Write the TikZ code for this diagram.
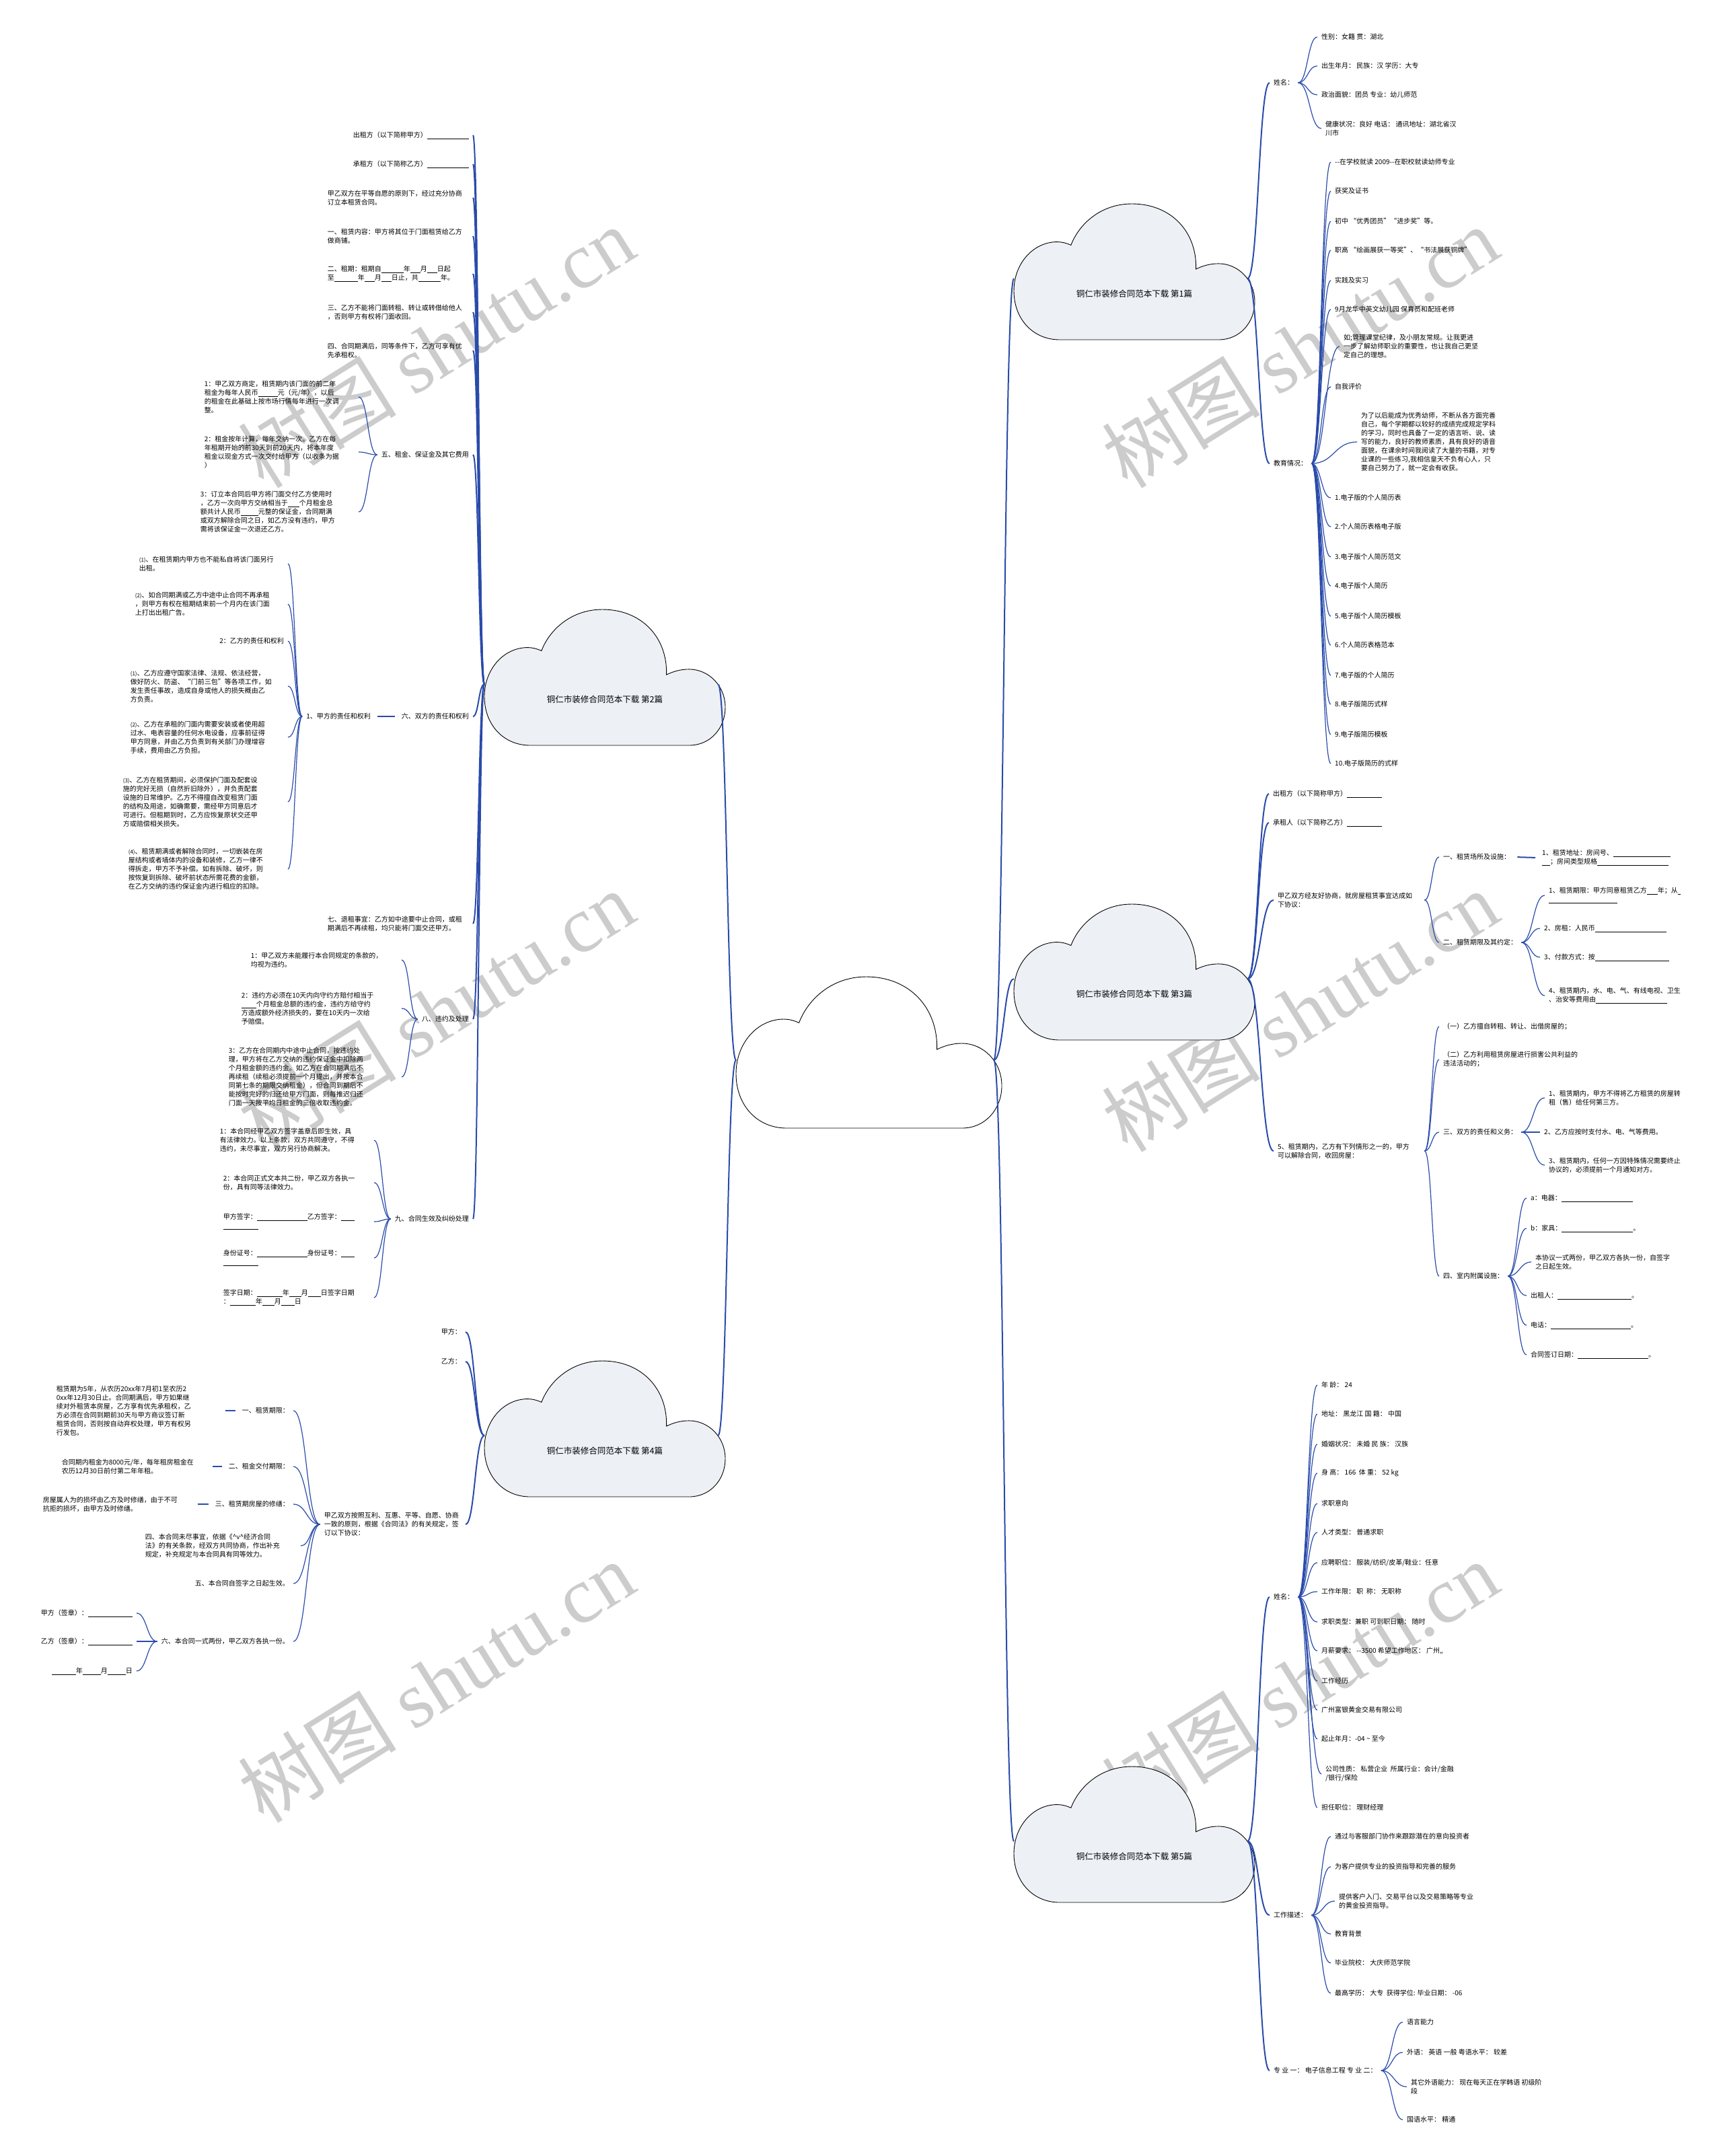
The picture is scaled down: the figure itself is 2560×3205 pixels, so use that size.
\documentclass[tikz,border=0pt]{standalone}
\usepackage{fontspec}
\setmainfont{Noto Sans CJK SC}
\newfontfamily\wmlatin{Liberation Serif}
\usetikzlibrary{calc}

\definecolor{linkblue}{RGB}{42,75,170}
\definecolor{cloudfill}{RGB}{237,240,245}
\newcommand{\leaffont}{\fontsize{10}{13}\selectfont}
\newcommand{\cloudfont}{\fontsize{12.5}{15}\selectfont}
\newcommand{\wmfont}{\fontsize{118}{118}\selectfont}
\newcommand{\blank}[1]{\rule[-2pt]{#1pt}{0.5pt}}

% cloud: name, left x, bottom y, width, height, fill, title
\newcommand{\mapcloud}[7]{%
  \begin{scope}[shift={(#2,#3)}, x=#4pt, y=#5pt]
    \draw[cloudline, fill=#6] (0.19,0) -- (0.85,0)
      .. controls (0.94,0) and (1,0.13) .. (1,0.28)
      .. controls (1,0.44) and (0.93,0.56) .. (0.85,0.56)
      .. controls (0.81,0.56) and (0.78,0.54) .. (0.756,0.52)
      .. controls (0.76,0.80) and (0.65,1) .. (0.49,1)
      .. controls (0.36,1) and (0.27,0.85) .. (0.237,0.696)
      .. controls (0.22,0.71) and (0.20,0.72) .. (0.18,0.72)
      .. controls (0.08,0.72) and (0,0.56) .. (0,0.36)
      .. controls (0,0.15) and (0.08,0) .. (0.19,0) -- cycle;
    \node[ttl] (#1) at (0.5,0.34) {#7};
    \coordinate (#1-l) at (0,0.45);
    \coordinate (#1-r) at (0.97,0.45);
  \end{scope}}

\begin{document}
\begin{tikzpicture}[
  x=1pt, y=-1pt,
  txt/.style={font=\leaffont, inner xsep=6pt, inner ysep=2pt, align=left},
  rt/.style={txt, anchor=west},
  lt/.style={txt, anchor=east},
  box/.style={text width=#1pt},
  ttl/.style={font=\cloudfont, inner sep=2pt},
  cloudline/.style={draw=black, line width=0.9pt},
  wm/.style={font=\wmfont, text=black!20, rotate=32},
  trunk/.style={draw=linkblue, line width=2pt},
  twig/.style={draw=linkblue, line width=1.2pt},
  tie/.style={draw=linkblue, line width=2pt, shorten <=4pt, shorten >=4pt},
  brc/.style={to path={let \p1=(\tikztostart), \p2=(\tikztotarget) in
    .. controls ({(\x1+\x2)/2},\y1) and ({(\x1+\x2)/2},\y2) .. (\p2)}},
]
  \useasboundingbox (0,0) rectangle (2560,3205);

  % watermarks
  \node[wm] (wm1) at (648,516) {树图 {\wmlatin shutu.cn}};
  \node[wm] (wm2) at (648,1503) {树图 {\wmlatin shutu.cn}};
  \node[wm] (wm3) at (648,2500) {树图 {\wmlatin shutu.cn}};
  \node[wm] (wm4) at (1932,516) {树图 {\wmlatin shutu.cn}};
  \node[wm] (wm5) at (1932,1503) {树图 {\wmlatin shutu.cn}};
  \node[wm] (wm6) at (1932,2500) {树图 {\wmlatin shutu.cn}};

  % clouds
  \mapcloud{root}{1094}{1677}{395}{225}{white}{}
  \mapcloud{p1}{1507}{505}{358}{202}{cloudfill}{铜仁市装修合同范本下载 第1篇}
  \mapcloud{p2}{720}{1108}{358}{202}{cloudfill}{铜仁市装修合同范本下载 第2篇}
  \mapcloud{p3}{1507}{1546}{358}{202}{cloudfill}{铜仁市装修合同范本下载 第3篇}
  \mapcloud{p4}{720}{2225}{358}{202}{cloudfill}{铜仁市装修合同范本下载 第4篇}
  \mapcloud{p5}{1507}{2828}{358}{202}{cloudfill}{铜仁市装修合同范本下载 第5篇}

  % Part 1
  \node[rt] (a1) at (1887,123) {姓名：};
  \node[rt] (a11) at (1958,55) {性别：女籍 贯：湖北};
  \node[rt] (a12) at (1958,98) {出生年月： 民族：汉 学历：大专};
  \node[rt] (a13) at (1958,141) {政治面貌：团员 专业：幼儿师范};
  \node[rt] (a14) at (1964,191) {健康状况：良好 电话： 通讯地址：湖北省汉\\川市};
  \node[rt] (a2) at (1887,689) {教育情况：};
  \node[rt] (a21) at (1978,241) {-{}-在学校就读 2009-{}-在职校就读幼师专业};
  \node[rt] (a22) at (1978,284) {获奖及证书};
  \node[rt] (a23) at (1978,329) {初中 “优秀团员”“进步奖”等。};
  \node[rt] (a24) at (1978,372) {职高 “绘画展获一等奖”、“书法展获铜牌”};
  \node[rt] (a25) at (1978,417) {实践及实习};
  \node[rt] (a26) at (1978,460) {9月龙华中英文幼儿园 保育员和配班老师};
  \node[rt] (a27) at (1991,515) {如;管理课堂纪律，及小朋友常规。让我更进\\一步了解幼师职业的重要性，也让我自己更坚\\定自己的理想。};
  \node[rt] (a28) at (1978,575) {自我评价};
  \node[rt] (a29) at (2017,657) {为了以后能成为优秀幼师，不断从各方面完善\\自己，每个学期都以较好的成绩完成规定学科\\的学习，同时也具备了一定的语言听、说、读\\写的能力，良好的教师素质，具有良好的语音\\面貌，在课余时间我阅读了大量的书籍，对专\\业课的一些练习,我相信皇天不负有心人，只\\要自己努力了，就一定会有收获。};
  \node[rt] (a210) at (1978,740) {1.电子版的个人简历表};
  \node[rt] (a211) at (1978,783) {2.个人简历表格电子版};
  \node[rt] (a212) at (1978,828) {3.电子版个人简历范文};
  \node[rt] (a213) at (1978,871) {4.电子版个人简历};
  \node[rt] (a214) at (1978,916) {5.电子版个人简历模板};
  \node[rt] (a215) at (1978,959) {6.个人简历表格范本};
  \node[rt] (a216) at (1978,1004) {7.电子版的个人简历};
  \node[rt] (a217) at (1978,1047) {8.电子版简历式样};
  \node[rt] (a218) at (1978,1092) {9.电子版简历模板};
  \node[rt] (a219) at (1978,1135) {10.电子版简历的式样};

  % Part 2
  \node[lt] (b1) at (703,201) {出租方（以下简称甲方）\blank{62}};
  \node[lt] (b2) at (703,244) {承租方（以下简称乙方）\blank{62}};
  \node[lt, box=210] (b3) at (703,294) {甲乙双方在平等自愿的原则下，经过充分协商\\订立本租赁合同。};
  \node[lt, box=210] (b4) at (703,351) {一、租赁内容：甲方将其位于门面租赁给乙方\\做商铺。};
  \node[lt, box=210] (b5) at (703,407) {二、租期：租期自\blank{33}年\blank{15}月\blank{15}日起\\至\blank{35}年\blank{15}月\blank{15}日止，共\blank{33}年。};
  \node[lt, box=210] (b6) at (703,464) {三、乙方不能将门面转租、转让或转借给他人\\，否则甲方有权将门面收回。};
  \node[lt, box=210] (b7) at (703,521) {四、合同期满后，同等条件下，乙方可享有优\\先承租权。};
  \node[lt] (b8) at (703,676) {五、租金、保证金及其它费用};
  \node[lt, box=223] (b81) at (533,590) {1：甲乙双方商定，租赁期内该门面的前二年\\租金为每年人民币\blank{29}元（元/年），以后\\的租金在此基础上按市场行情每年进行一次调\\整。};
  \node[lt, box=223] (b82) at (533,672) {2：租金按年计算，每年交纳一次。乙方在每\\年租期开始的前30天到前20天内，将本年度\\租金以现金方式一次交付给甲方（以收条为据\\）};
  \node[lt, box=229] (b83) at (533,761) {3：订立本合同后甲方将门面交付乙方使用时\\，乙方一次向甲方交纳相当于\blank{17}个月租金总\\额共计人民币\blank{26}元整的保证金，合同期满\\或双方解除合同之日，如乙方没有违约，甲方\\需将该保证金一次退还乙方。};
  \node[lt] (b9) at (703,1065) {六、双方的责任和权利};
  \node[lt] (b91) at (557,1065) {1、甲方的责任和权利};
  \node[lt, box=215] (b911) at (428,838) {{\footnotesize(1)}、在租赁期内甲方也不能私自将该门面另行\\出租。};
  \node[lt, box=221] (b912) at (428,898) {{\footnotesize(2)}、如合同期满或乙方中途中止合同不再承租\\，则甲方有权在租期结束前一个月内在该门面\\上打出出租广告。};
  \node[lt] (b913) at (428,953) {2：乙方的责任和权利};
  \node[lt, box=228] (b914) at (428,1020) {{\footnotesize(1)}、乙方应遵守国家法律、法规、依法经营，\\做好防火、防盗、“门前三包”等各项工作，如\\发生责任事故，造成自身或他人的损失概由乙\\方负责。};
  \node[lt, box=228] (b915) at (428,1096) {{\footnotesize(2)}、乙方在承租的门面内需要安装或者使用超\\过水、电表容量的任何水电设备，应事前征得\\甲方同意，并由乙方负责到有关部门办理增容\\手续，费用由乙方负担。};
  \node[lt, box=239] (b916) at (428,1192) {{\footnotesize(3)}、乙方在租赁期间，必须保护门面及配套设\\施的完好无损（自然折旧除外），并负责配套\\设施的日常维护。乙方不得擅自改变租赁门面\\的结构及用途，如确需要，需经甲方同意后才\\可进行。但租期到时，乙方应恢复原状交还甲\\方或赔偿相关损失。};
  \node[lt, box=231] (b917) at (428,1292) {{\footnotesize(4)}、租赁期满或者解除合同时，一切嵌装在房\\屋结构或者墙体内的设备和装修，乙方一律不\\得拆走，甲方不予补偿。如有拆除、破坏，则\\按恢复到拆除、破坏前状态所需花费的金额，\\在乙方交纳的违约保证金内进行相应的扣除。};
  \node[lt, box=210] (b10) at (703,1373) {七、退租事宜：乙方如中途要中止合同，或租\\期满后不再续租，均只能将门面交还甲方。};
  \node[lt] (b11) at (703,1515) {八、违约及处理};
  \node[lt, box=218] (b111) at (597,1427) {1：甲乙双方未能履行本合同规定的条款的，\\均视为违约。};
  \node[lt, box=232] (b112) at (597,1499) {2：违约方必须在10天内向守约方赔付相当于\\\blank{22}个月租金总额的违约金，违约方给守约\\方造成额外经济损失的，要在10天内一次给\\予赔偿。};
  \node[lt, box=251] (b113) at (597,1601) {3：乙方在合同期内中途中止合同，按违约处\\理，甲方将在乙方交纳的违约保证金中扣除两\\个月租金额的违约金。如乙方在合同期满后不\\再续租（续租必须提前一个月提出，并按本合\\同第七条的期限交纳租金），但合同到期后不\\能按时完好的归还给甲方门面，则每推迟归还\\门面一天按平均日租金的三倍收取违约金。};
  \node[lt] (b12) at (703,1812) {九、合同生效及纠纷处理};
  \node[lt, box=223] (b121) at (556,1695) {1：本合同经甲乙双方签字盖章后即生效，具\\有法律效力。以上条款，双方共同遵守，不得\\违约，未尽事宜，双方另行协商解决。};
  \node[lt, box=218] (b122) at (556,1758) {2：本合同正式文本共二份，甲乙双方各执一\\份，具有同等法律效力。};
  \node[lt, box=218] (b123) at (556,1816) {甲方签字：\blank{75}乙方签字：\blank{20}\\\blank{52}};
  \node[lt, box=218] (b124) at (556,1870) {身份证号：\blank{75}身份证号：\blank{20}\\\blank{52}};
  \node[lt, box=218] (b125) at (556,1929) {签字日期：\blank{38}年\blank{18}月\blank{19}日签字日期\\：\blank{38}年\blank{18}月\blank{20}日};

  % Part 3
  \node[rt] (e1) at (1886,1180) {出租方（以下简称甲方）\blank{52}};
  \node[rt] (e2) at (1886,1223) {承租人（以下简称乙方）\blank{52}};
  \node[rt, box=212] (e3) at (1893,1338) {甲乙双方经友好协商，就房屋租赁事宜达成如\\下协议：};
  \node[rt] (e31) at (2139,1274) {一、租赁场所及设施：};
  \node[rt] (e311) at (2286,1275) {1、租赁地址：房间号、\blank{85}\\\blank{12}；房间类型规格\blank{106}};
  \node[rt] (e32) at (2139,1401) {二、租赁期限及其约定：};
  \node[rt] (e321) at (2296,1331) {1、租赁期限：甲方同意租赁乙方\blank{16}年；从\blank{4}\\\blank{102}};
  \node[rt] (e322) at (2289,1380) {2、房租：人民币\blank{106}};
  \node[rt] (e323) at (2289,1423) {3、付款方式：按\blank{110}};
  \node[rt] (e324) at (2296,1480) {4、租赁期内，水、电、气、有线电视、卫生\\、治安等费用由\blank{106}};
  \node[rt, box=212] (e4) at (1893,1711) {5、租赁期内，乙方有下列情形之一的，甲方\\可以解除合同，收回房屋：};
  \node[rt] (e41) at (2139,1526) {（一）乙方擅自转租、转让、出借房屋的；};
  \node[rt] (e42) at (2139,1575) {（二）乙方利用租赁房屋进行损害公共利益的\\违法活动的；};
  \node[rt] (e43) at (2139,1683) {三、双方的责任和义务：};
  \node[rt] (e431) at (2296,1632) {1、租赁期内，甲方不得将乙方租赁的房屋转\\租（售）给任何第三方。};
  \node[rt] (e432) at (2289,1683) {2、乙方应按时支付水、电、气等费用。};
  \node[rt] (e433) at (2296,1732) {3、租赁期内，任何一方因特殊情况需要终止\\协议的，必须提前一个月通知对方。};
  \node[rt] (e44) at (2139,1897) {四、室内附属设施：};
  \node[rt] (e441) at (2269,1781) {a：电器：\blank{106}};
  \node[rt] (e442) at (2269,1826) {b：家具：\blank{106}。};
  \node[rt] (e443) at (2276,1876) {本协议一式两份，甲乙双方各执一份，自签字\\之日起生效。};
  \node[rt] (e444) at (2269,1926) {出租人：\blank{110}。};
  \node[rt] (e445) at (2269,1970) {电话：\blank{119}。};
  \node[rt] (e446) at (2269,2014) {合同签订日期：\blank{105}。};

  % Part 4
  \node[lt] (d1) at (692,1980) {甲方：};
  \node[lt] (d2) at (692,2024) {乙方：};
  \node[lt, box=204] (d3) at (692,2266) {甲乙双方按照互利、互惠、平等、自愿、协商\\一致的原则，根据《合同法》的有关规定，签\\订以下协议：};
  \node[lt] (d31) at (436,2097) {一、租赁期限：};
  \node[lt, box=241] (d311) at (331,2097) {租赁期为5年，从农历20xx年7月初1至农历2\\0xx年12月30日止。合同期满后，甲方如果继\\续对外租赁本房屋，乙方享有优先承租权，乙\\方必须在合同到期前30天与甲方商议签订新\\租赁合同，否则按自动弃权处理，甲方有权另\\行发包。};
  \node[lt] (d32) at (436,2180) {二、租金交付期限：};
  \node[lt, box=214] (d321) at (312,2180) {合同期内租金为8000元/年，每年租房租金在\\农历12月30日前付第二年年租。};
  \node[lt] (d33) at (436,2236) {三、租赁期房屋的修缮：};
  \node[lt, box=220] (d331) at (290,2236) {房屋属人为的损坏由乙方及时修缮，由于不可\\抗拒的损坏，由甲方及时修缮。};
  \node[lt, box=225] (d34) at (447,2298) {四、本合同未尽事宜，依据《\textasciicircum{}v\textasciicircum{}经济合同\\法》的有关条款，经双方共同协商，作出补充\\规定，补充规定与本合同具有同等效力。};
  \node[lt] (d35) at (436,2354) {五、本合同自签字之日起生效。};
  \node[lt] (d36) at (436,2440) {六、本合同一式两份，甲乙双方各执一份。};
  \node[lt] (d361) at (203,2398) {甲方（签章）：\blank{66}};
  \node[lt] (d362) at (203,2440) {乙方（签章）：\blank{66}};
  \node[lt] (d363) at (203,2484) {\blank{36}年\blank{27}月\blank{27}日};

  % Part 5
  \node[rt] (f1) at (1887,2374) {姓名：};
  \node[rt] (f11) at (1958,2059) {年 龄： 24};
  \node[rt] (f12) at (1958,2102) {地址： 黑龙江 国 籍： 中国};
  \node[rt] (f13) at (1958,2147) {婚姻状况： 未婚 民 族： 汉族};
  \node[rt] (f14) at (1958,2190) {身 高： 166 \ 体 重： 52 kg};
  \node[rt] (f15) at (1958,2235) {求职意向};
  \node[rt] (f16) at (1958,2278) {人才类型： 普通求职};
  \node[rt] (f17) at (1958,2323) {应聘职位： 服装/纺织/皮革/鞋业：任意};
  \node[rt] (f18) at (1958,2366) {工作年限： 职 \ 称： 无职称};
  \node[rt] (f19) at (1958,2411) {求职类型：兼职 可到职日期： 随时};
  \node[rt] (f110) at (1958,2454) {月薪要求： -{}-3500 希望工作地区： 广州,,};
  \node[rt] (f111) at (1958,2499) {工作经历};
  \node[rt] (f112) at (1958,2542) {广州富银黄金交易有限公司};
  \node[rt] (f113) at (1958,2585) {起止年月：-04 \textasciitilde{} 至今};
  \node[rt] (f114) at (1964,2637) {公司性质： 私营企业 \ 所属行业：会计/金融\\/银行/保险};
  \node[rt] (f115) at (1958,2687) {担任职位： 理财经理};
  \node[rt] (f2) at (1887,2847) {工作描述：};
  \node[rt] (f21) at (1978,2730) {通过与客服部门协作来跟踪潜在的意向投资者};
  \node[rt] (f22) at (1978,2775) {为客户提供专业的投资指导和完善的服务};
  \node[rt] (f23) at (1984,2826) {提供客户入门、交易平台以及交易策略等专业\\的黄金投资指导。};
  \node[rt] (f24) at (1978,2875) {教育背景};
  \node[rt] (f25) at (1978,2918) {毕业院校： 大庆师范学院};
  \node[rt] (f26) at (1978,2963) {最高学历： 大专 \ 获得学位: 毕业日期： -06};
  \node[rt] (f3) at (1887,3078) {专 业 一： 电子信息工程 专 业 二：};
  \node[rt] (f31) at (2085,3006) {语言能力};
  \node[rt] (f32) at (2085,3051) {外语： 英语 一般 粤语水平： 较差};
  \node[rt] (f33) at (2091,3102) {其它外语能力： 现在每天正在学韩语 初级阶\\段};
  \node[rt] (f34) at (2085,3151) {国语水平： 精通};

  % centre to the five clouds
  \draw[trunk] (root-l) to[brc] (p2-r);
  \draw[trunk] (root-l) to[brc] (p4-r);
  \draw[trunk] (root-r) to[brc] (p1-l);
  \draw[trunk] (root-r) to[brc] (p3-l);
  \draw[trunk] (root-r) to[brc] (p5-l);

  % Part 1 links
  \draw[trunk] (p1-r) to[brc] (a1.west);
  \draw[trunk] (p1-r) to[brc] (a2.west);
  \draw[twig] (a1.east) to[brc] (a11.west);
  \draw[twig] (a1.east) to[brc] (a12.west);
  \draw[twig] (a1.east) to[brc] (a13.west);
  \draw[twig] (a1.east) to[brc] (a14.west);
  \draw[twig] (a2.east) to[brc] (a21.west);
  \draw[twig] (a2.east) to[brc] (a22.west);
  \draw[twig] (a2.east) to[brc] (a23.west);
  \draw[twig] (a2.east) to[brc] (a24.west);
  \draw[twig] (a2.east) to[brc] (a25.west);
  \draw[twig] (a2.east) to[brc] (a26.west);
  \draw[twig] (a2.east) to[brc] (a27.west);
  \draw[twig] (a2.east) to[brc] (a28.west);
  \draw[twig] (a2.east) to[brc] (a29.west);
  \draw[twig] (a2.east) to[brc] (a210.west);
  \draw[twig] (a2.east) to[brc] (a211.west);
  \draw[twig] (a2.east) to[brc] (a212.west);
  \draw[twig] (a2.east) to[brc] (a213.west);
  \draw[twig] (a2.east) to[brc] (a214.west);
  \draw[twig] (a2.east) to[brc] (a215.west);
  \draw[twig] (a2.east) to[brc] (a216.west);
  \draw[twig] (a2.east) to[brc] (a217.west);
  \draw[twig] (a2.east) to[brc] (a218.west);
  \draw[twig] (a2.east) to[brc] (a219.west);

  % Part 2 links
  \draw[trunk] (p2-l) to[brc] (b1.east);
  \draw[trunk] (p2-l) to[brc] (b2.east);
  \draw[trunk] (p2-l) to[brc] (b3.east);
  \draw[trunk] (p2-l) to[brc] (b4.east);
  \draw[trunk] (p2-l) to[brc] (b5.east);
  \draw[trunk] (p2-l) to[brc] (b6.east);
  \draw[trunk] (p2-l) to[brc] (b7.east);
  \draw[trunk] (p2-l) to[brc] (b8.east);
  \draw[trunk] (p2-l) to[brc] (b9.east);
  \draw[trunk] (p2-l) to[brc] (b10.east);
  \draw[trunk] (p2-l) to[brc] (b11.east);
  \draw[trunk] (p2-l) to[brc] (b12.east);
  \draw[twig] (b8.west) to[brc] (b81.east);
  \draw[twig] (b8.west) to[brc] (b82.east);
  \draw[twig] (b8.west) to[brc] (b83.east);
  \draw[tie] (b9.west) -- (b91.east);
  \draw[twig] (b91.west) to[brc] (b911.east);
  \draw[twig] (b91.west) to[brc] (b912.east);
  \draw[twig] (b91.west) to[brc] (b913.east);
  \draw[twig] (b91.west) to[brc] (b914.east);
  \draw[twig] (b91.west) to[brc] (b915.east);
  \draw[twig] (b91.west) to[brc] (b916.east);
  \draw[twig] (b91.west) to[brc] (b917.east);
  \draw[twig] (b11.west) to[brc] (b111.east);
  \draw[twig] (b11.west) to[brc] (b112.east);
  \draw[twig] (b11.west) to[brc] (b113.east);
  \draw[twig] (b12.west) to[brc] (b121.east);
  \draw[twig] (b12.west) to[brc] (b122.east);
  \draw[twig] (b12.west) to[brc] (b123.east);
  \draw[twig] (b12.west) to[brc] (b124.east);
  \draw[twig] (b12.west) to[brc] (b125.east);

  % Part 3 links
  \draw[trunk] (p3-r) to[brc] (e1.west);
  \draw[trunk] (p3-r) to[brc] (e2.west);
  \draw[trunk] (p3-r) to[brc] (e3.west);
  \draw[trunk] (p3-r) to[brc] (e4.west);
  \draw[twig] (e3.east) to[brc] (e31.west);
  \draw[twig] (e3.east) to[brc] (e32.west);
  \draw[tie] (e31.east) -- (e311.west);
  \draw[twig] (e32.east) to[brc] (e321.west);
  \draw[twig] (e32.east) to[brc] (e322.west);
  \draw[twig] (e32.east) to[brc] (e323.west);
  \draw[twig] (e32.east) to[brc] (e324.west);
  \draw[twig] (e4.east) to[brc] (e41.west);
  \draw[twig] (e4.east) to[brc] (e42.west);
  \draw[twig] (e4.east) to[brc] (e43.west);
  \draw[twig] (e4.east) to[brc] (e44.west);
  \draw[twig] (e43.east) to[brc] (e431.west);
  \draw[twig] (e43.east) to[brc] (e432.west);
  \draw[twig] (e43.east) to[brc] (e433.west);
  \draw[twig] (e44.east) to[brc] (e441.west);
  \draw[twig] (e44.east) to[brc] (e442.west);
  \draw[twig] (e44.east) to[brc] (e443.west);
  \draw[twig] (e44.east) to[brc] (e444.west);
  \draw[twig] (e44.east) to[brc] (e445.west);
  \draw[twig] (e44.east) to[brc] (e446.west);

  % Part 4 links
  \draw[trunk] (p4-l) to[brc] (d1.east);
  \draw[trunk] (p4-l) to[brc] (d2.east);
  \draw[trunk] (p4-l) to[brc] (d3.east);
  \draw[twig] (d3.west) to[brc] (d31.east);
  \draw[twig] (d3.west) to[brc] (d32.east);
  \draw[twig] (d3.west) to[brc] (d33.east);
  \draw[twig] (d3.west) to[brc] (d34.east);
  \draw[twig] (d3.west) to[brc] (d35.east);
  \draw[twig] (d3.west) to[brc] (d36.east);
  \draw[tie] (d31.west) -- (d311.east);
  \draw[tie] (d32.west) -- (d321.east);
  \draw[tie] (d33.west) -- (d331.east);
  \draw[twig] (d36.west) to[brc] (d361.east);
  \draw[twig] (d36.west) to[brc] (d362.east);
  \draw[twig] (d36.west) to[brc] (d363.east);

  % Part 5 links
  \draw[trunk] (p5-r) to[brc] (f1.west);
  \draw[trunk] (p5-r) to[brc] (f2.west);
  \draw[trunk] (p5-r) to[brc] (f3.west);
  \draw[twig] (f1.east) to[brc] (f11.west);
  \draw[twig] (f1.east) to[brc] (f12.west);
  \draw[twig] (f1.east) to[brc] (f13.west);
  \draw[twig] (f1.east) to[brc] (f14.west);
  \draw[twig] (f1.east) to[brc] (f15.west);
  \draw[twig] (f1.east) to[brc] (f16.west);
  \draw[twig] (f1.east) to[brc] (f17.west);
  \draw[twig] (f1.east) to[brc] (f18.west);
  \draw[twig] (f1.east) to[brc] (f19.west);
  \draw[twig] (f1.east) to[brc] (f110.west);
  \draw[twig] (f1.east) to[brc] (f111.west);
  \draw[twig] (f1.east) to[brc] (f112.west);
  \draw[twig] (f1.east) to[brc] (f113.west);
  \draw[twig] (f1.east) to[brc] (f114.west);
  \draw[twig] (f1.east) to[brc] (f115.west);
  \draw[twig] (f2.east) to[brc] (f21.west);
  \draw[twig] (f2.east) to[brc] (f22.west);
  \draw[twig] (f2.east) to[brc] (f23.west);
  \draw[twig] (f2.east) to[brc] (f24.west);
  \draw[twig] (f2.east) to[brc] (f25.west);
  \draw[twig] (f2.east) to[brc] (f26.west);
  \draw[twig] (f3.east) to[brc] (f31.west);
  \draw[twig] (f3.east) to[brc] (f32.west);
  \draw[twig] (f3.east) to[brc] (f33.west);
  \draw[twig] (f3.east) to[brc] (f34.west);
\end{tikzpicture}
\end{document}
